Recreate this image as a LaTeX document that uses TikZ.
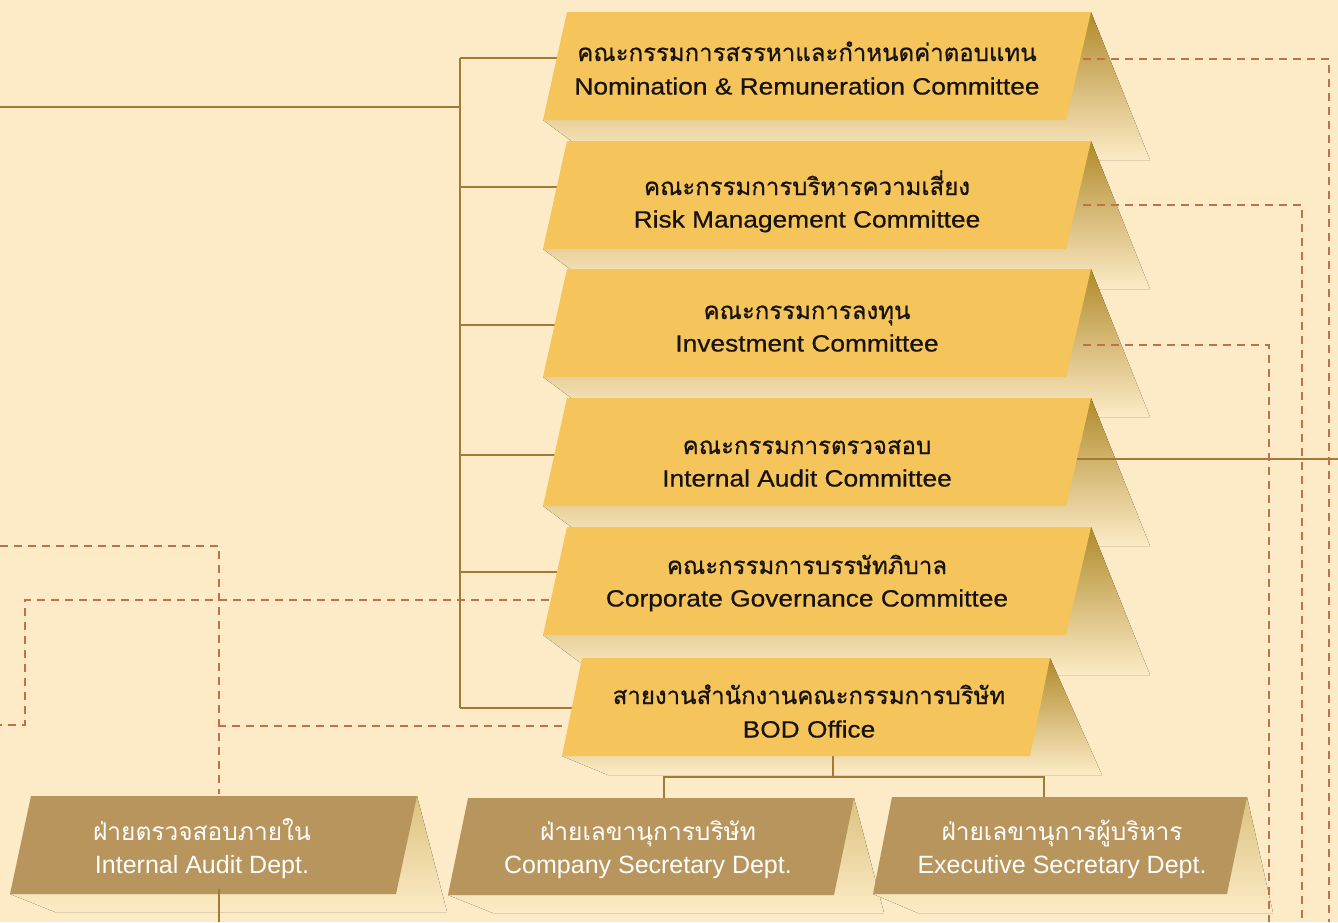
\documentclass[tikz,border=0pt]{standalone}
\usepackage{fontspec}
\newfontfamily\thaifont[Script=Thai]{Loma}
\newfontfamily\thaibold[Script=Thai,FakeBold=0.6]{Loma}
\newfontfamily\enwide[FakeStretch=1.12,FakeBold=0.6]{Liberation Sans}
\newfontfamily\ennorm{Liberation Sans}
\definecolor{bgc}{HTML}{FCEBC6}
\definecolor{yellowc}{HTML}{F5C45B}
\definecolor{tanc}{HTML}{B8955C}
\definecolor{linec}{HTML}{A27A33}
\definecolor{dashc}{HTML}{C0704A}
\definecolor{shadtop}{HTML}{B08A2A}
\definecolor{shadtopd}{HTML}{DCC27F}
\definecolor{textc}{HTML}{161310}
\newcommand\thC{\thaibold\fontsize{24}{28}\selectfont}
\newcommand\enC{\enwide\fontsize{23.5}{28}\selectfont}
\newcommand\thD{\thaifont\fontsize{24.5}{28}\selectfont}
\newcommand\enD{\ennorm\fontsize{25}{28}\selectfont}
\tikzset{
  comshadow/.style={top color=shadtop, bottom color=bgc},
  deptshadow/.style={top color=shadtopd, bottom color=bgc},
  combox/.style={fill=yellowc},
  deptbox/.style={fill=tanc},
  solidln/.style={draw=linec, line width=2pt},
  dashln/.style={draw=dashc, line width=2pt, dash pattern=on 8pt off 6pt},
  thc/.style={font=\thC, text=textc, anchor=base, inner sep=0pt},
  enc/.style={font=\enC, text=textc, anchor=base, inner sep=0pt},
  thd/.style={font=\thD, text=white, anchor=base, inner sep=0pt},
  end/.style={font=\enD, text=white, anchor=base, inner sep=0pt},
}
\begin{document}
\begin{tikzpicture}[x=1pt,y=-1pt]
\useasboundingbox (0,0) rectangle (1338,922);
\fill[bgc] (0,0) rectangle (1338,922);

% ---------- shadows ----------
\foreach \T in {12,141,269,398,527} {
  \fill[comshadow] (1091,\T) -- (1150,\T+148) -- (597,\T+148) -- (543,\T+108) -- cycle;
}
\fill[comshadow] (1050,658) -- (1102,775) -- (608,775) -- (562,756) -- cycle;
\fill[deptshadow] (417,796) -- (447,912) -- (55,912) -- (10,894) -- cycle;
\fill[deptshadow] (854,798) -- (884,913) -- (493,913) -- (448,895) -- cycle;
\fill[deptshadow] (1247,797) -- (1273,913) -- (918,913) -- (873,894) -- cycle;

% ---------- named anchor points ----------
\coordinate (board) at (0,107);
\coordinate (trunkTop) at (460,58);
\coordinate (trunkBot) at (460,708);
\coordinate (nrcL) at (562,58);
\coordinate (rmcL) at (562,187);
\coordinate (invL) at (562,325);
\coordinate (iacL) at (562,455);
\coordinate (cgcL) at (562,572);
\coordinate (bodL) at (576,708);
\coordinate (nrcR) at (1083,58.5);
\coordinate (rmcR) at (1083,205);
\coordinate (invR) at (1083,345);
\coordinate (iacR) at (1073,459);
\coordinate (edgeR) at (1338,459);
\coordinate (d1) at (1329,922);
\coordinate (d2) at (1302,922);
\coordinate (d3) at (1269,922);
\coordinate (bodB) at (833,756);
\coordinate (bodJ) at (833,777);
\coordinate (csdT) at (664,798);
\coordinate (esdT) at (1044,797);
\coordinate (iadT) at (219,794);
\coordinate (iadB) at (219,889);
\coordinate (bottomA) at (219,922);
\coordinate (leftA) at (0,546);
\coordinate (bodDL) at (562,726);
\coordinate (cgcDL) at (549,600);
\coordinate (leftB) at (0,725);

% ---------- connectors ----------
\draw[solidln] (board) -- (trunkTop |- board);
\draw[solidln] (trunkTop) -- (trunkBot);
\draw[solidln] (trunkTop) -- (nrcL);
\draw[solidln] (trunkTop |- rmcL) -- (rmcL);
\draw[solidln] (trunkTop |- invL) -- (invL);
\draw[solidln] (trunkTop |- iacL) -- (iacL);
\draw[solidln] (trunkTop |- cgcL) -- (cgcL);
\draw[solidln] (trunkBot) -- (bodL);
\draw[solidln] (iacR) -- (edgeR);
\draw[solidln] (bodB) -- (bodJ);
\draw[solidln] (csdT) |- (bodJ) -| (esdT);
\draw[solidln] (iadB) -- (bottomA);

\draw[dashln] (nrcR) -| (d1);
\draw[dashln] (rmcR) -| (d2);
\draw[dashln] (invR) -| (d3);
\draw[dashln] (leftA) -| (iadT);
\draw[dashln] (bodDL) -- (iadT |- bodDL);
\draw[dashln] (cgcDL) -| (25,725) -- (leftB);

% ---------- boxes ----------
\foreach \T in {12,141,269,398,527} {
  \fill[combox] (567,\T) -- (1091,\T) -- (1066,\T+108) -- (543,\T+108) -- cycle;
}
\fill[combox] (582,658) -- (1050,658) -- (1030,756) -- (562,756) -- cycle;
\fill[deptbox] (31,796) -- (417,796) -- (396,894) -- (10,894) -- cycle;
\fill[deptbox] (468,798) -- (854,798) -- (834,895) -- (448,895) -- cycle;
\fill[deptbox] (892,797) -- (1247,797) -- (1227,894) -- (873,894) -- cycle;
% solid line stub inside internal audit box
\draw[solidln] (iadB) -- (219,894);

% ---------- texts ----------
\node[thc] (nrcTh) at (807,61) {คณะกรรมการสรรหาและกำหนดค่าตอบแทน};
\node[enc] (nrcEn) at (807,94.5) {Nomination \& Remuneration Committee};
\node[thc] (rmcTh) at (807,195) {คณะกรรมการบริหารความเสี่ยง};
\node[enc] (rmcEn) at (807,227.5) {Risk Management Committee};
\node[thc] (invTh) at (807,319) {คณะกรรมการลงทุน};
\node[enc] (invEn) at (807,351.5) {Investment Committee};
\node[thc] (iacTh) at (807,454) {คณะกรรมการตรวจสอบ};
\node[enc] (iacEn) at (807,486.5) {Internal Audit Committee};
\node[thc] (cgcTh) at (807,574) {คณะกรรมการบรรษัทภิบาล};
\node[enc] (cgcEn) at (807,606.5) {Corporate Governance Committee};
\node[thc] (bodTh) at (809,704) {สายงานสำนักงานคณะกรรมการบริษัท};
\node[enc] (bodEn) at (809,737.5) {BOD Office};

\node[thd] (iadTh) at (202,840) {ฝ่ายตรวจสอบภายใน};
\node[end] (iadEn) at (202,873) {Internal Audit Dept.};
\node[thd] (csdTh) at (648,840) {ฝ่ายเลขานุการบริษัท};
\node[end] (csdEn) at (648,873) {Company Secretary Dept.};
\node[thd] (esdTh) at (1062,840) {ฝ่ายเลขานุการผู้บริหาร};
\node[end] (esdEn) at (1062,873) {Executive Secretary Dept.};
\end{tikzpicture}
\end{document}
